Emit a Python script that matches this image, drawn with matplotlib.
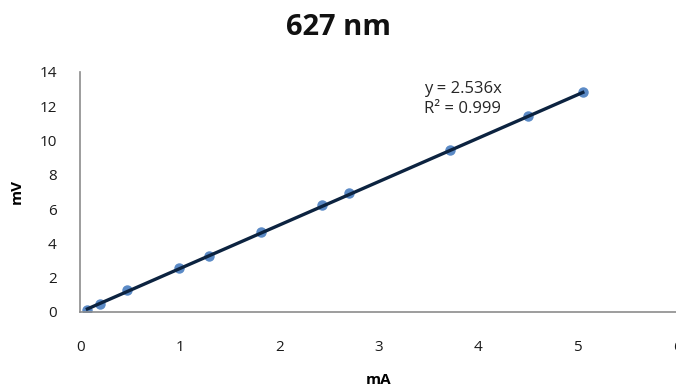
import matplotlib
matplotlib.use("Agg")
import matplotlib.pyplot as plt
import numpy as np

# Measured current (mA) and voltage (mV) at 627 nm
current_ma = [0.07, 0.20, 0.47, 0.99, 1.29, 1.81, 2.43, 2.70, 3.71, 4.50, 5.05]
voltage_mv = [0.12, 0.47, 1.29, 2.57, 3.27, 4.68, 6.25, 6.94, 9.43, 11.44, 12.85]
slope = 2.536
r_squared = 0.999

x_ticks = [0, 1, 2, 3, 4, 5, 6]
y_ticks = [0, 2, 4, 6, 8, 10, 12, 14]

plt.rcParams['font.family'] = ['Open Sans', 'DejaVu Sans']

fig = plt.figure(figsize=(6.76, 3.89), dpi=100)
ax = fig.add_axes([0.119, 0.198, 0.883, 0.617])

ax.plot(current_ma, voltage_mv, 'o', color='#5b8ac6', markersize=6.5, zorder=2)
xs = np.array([min(current_ma), max(current_ma)])
ax.plot(xs, slope * xs, '-', color='#0c2340', linewidth=2.4, zorder=3)

ax.set_xlim(0, 6)
ax.set_ylim(0, 14)
ax.set_xticks(x_ticks)
ax.set_yticks(y_ticks)
ax.tick_params(axis='both', length=0, labelsize=11, colors='#1a1a1a')
ax.tick_params(axis='y', pad=17)
ax.tick_params(axis='x', pad=20)

for side in ('top', 'right'):
    ax.spines[side].set_visible(False)
for side in ('left', 'bottom'):
    ax.spines[side].set_color('#8c8c8c')
    ax.spines[side].set_linewidth(1.2)

ax.set_xlabel('mA', fontsize=11, fontweight='bold', labelpad=13)
ax.set_ylabel('mV', fontsize=11, fontweight='bold', labelpad=11)

ax.text(3.45, 12.4, f'y = {slope}x\nR² = {r_squared}', fontsize=12,
        color='#262626', linespacing=1.35, va='center', ha='left')

fig.text(0.50, 0.93, '627 nm', fontsize=21, fontweight='bold',
         ha='center', va='center', color='#111111')

fig.savefig('out.png', dpi=100)
